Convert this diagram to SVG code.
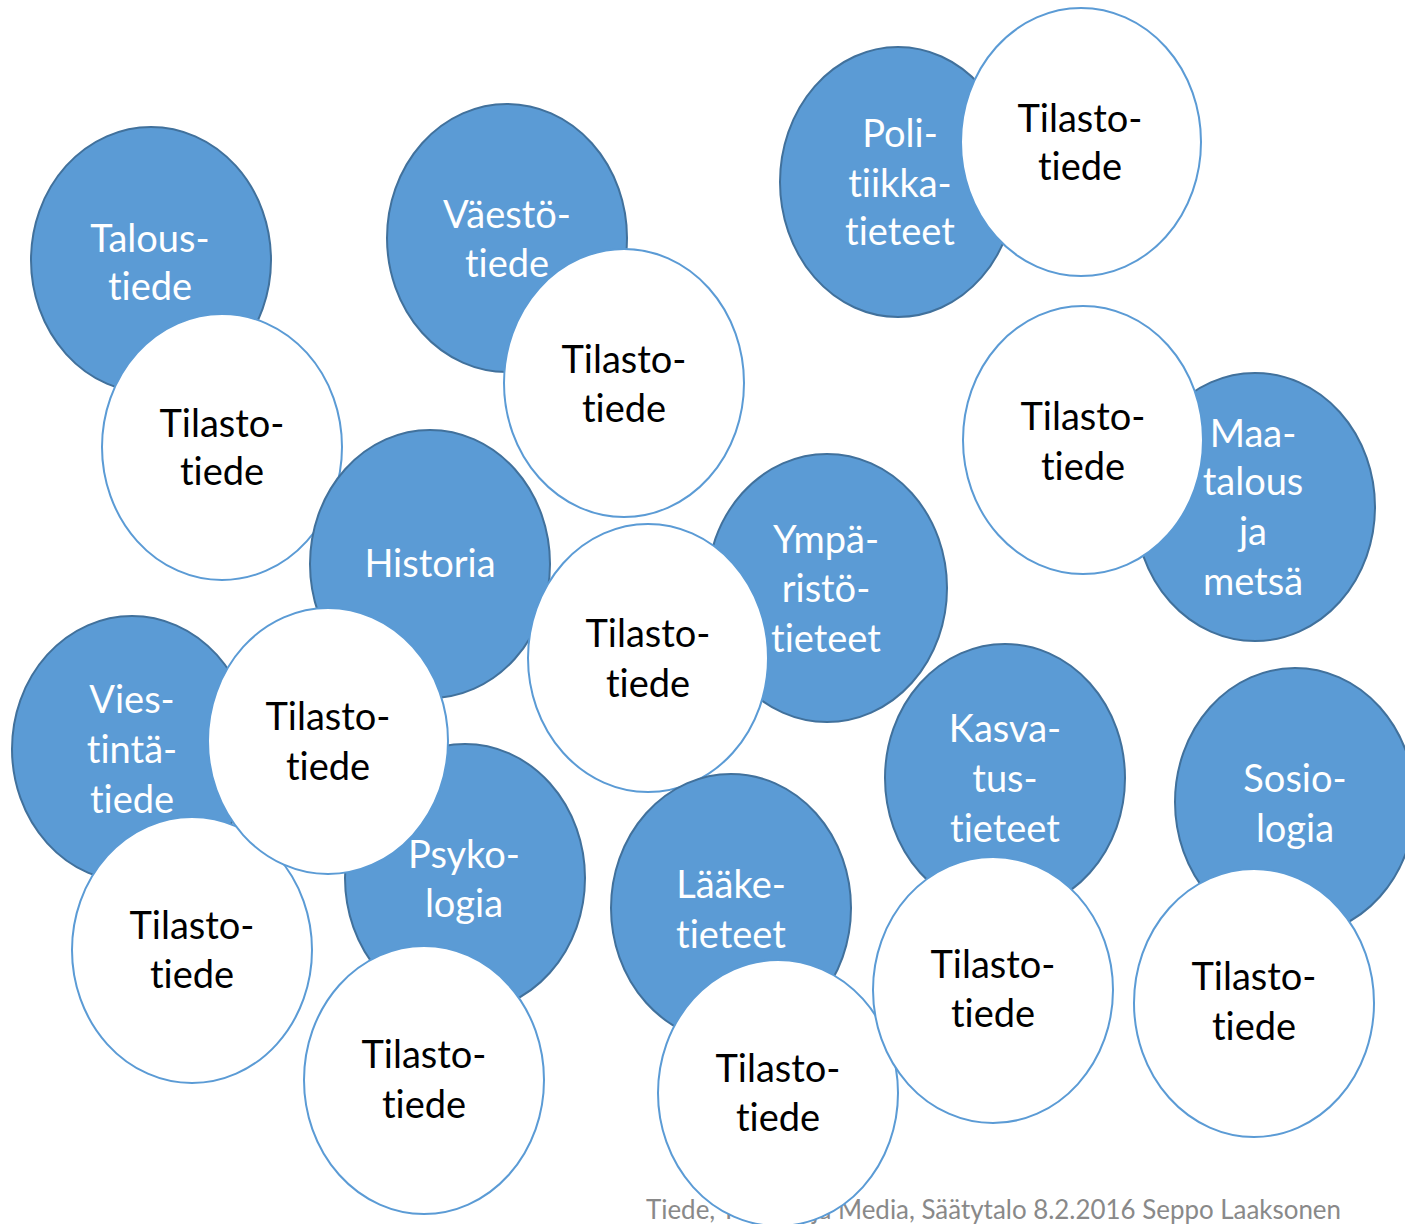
<svg xmlns="http://www.w3.org/2000/svg" width="1405" height="1224" viewBox="0 0 1405 1224">
<style>
text{font-variant-ligatures:none;font-feature-settings:"liga" 0,"dlig" 0}
.b{fill:#5B9BD5;stroke:#41719C;stroke-width:2}
.w{fill:#FFFFFF;stroke:#5B9BD5;stroke-width:2}
.tb{font-family:Lato,"Open Sans","Liberation Sans",sans-serif;font-size:38px;fill:#FFFFFF;text-anchor:middle}
.tw{font-family:Lato,"Open Sans","Liberation Sans",sans-serif;font-size:38px;fill:#000000;text-anchor:middle}
.ft{font-family:Lato,"Open Sans","Liberation Sans",sans-serif;font-size:26px;fill:#898989}
</style>
<rect width="1405" height="1224" fill="#FFFFFF"/>
<text class="ft" x="646" y="1219" textLength="695" lengthAdjust="spacingAndGlyphs">Tiede, Tilastot ja Media, Säätytalo 8.2.2016 Seppo Laaksonen</text>

<g id="taloustiede"><ellipse class="b" cx="151" cy="260" rx="120" ry="133"/><text class="tb" x="150" y="252">Talous-</text><text class="tb" x="150" y="300">tiede</text></g>
<g id="tilasto-a"><ellipse class="w" cx="222" cy="447" rx="120" ry="133"/><text class="tw" x="222" y="437">Tilasto-</text><text class="tw" x="222" y="485">tiede</text></g>

<g id="vaestotiede"><ellipse class="b" cx="507" cy="238" rx="120" ry="134"/><text class="tb" x="507" y="228">Väestö-</text><text class="tb" x="507" y="277">tiede</text></g>
<g id="tilasto-b"><ellipse class="w" cx="624" cy="383" rx="120" ry="134"/><text class="tw" x="624" y="373">Tilasto-</text><text class="tw" x="624" y="422">tiede</text></g>

<g id="politiikkatieteet"><ellipse class="b" cx="898" cy="182" rx="118" ry="135"/><text class="tb" x="900" y="147">Poli-</text><text class="tb" x="900" y="197">tiikka-</text><text class="tb" x="900" y="245">tieteet</text></g>
<g id="tilasto-c"><ellipse class="w" cx="1081" cy="142" rx="120" ry="134"/><text class="tw" x="1080" y="132">Tilasto-</text><text class="tw" x="1080" y="180">tiede</text></g>

<g id="maatalous"><ellipse class="b" cx="1255" cy="507" rx="120" ry="134"/><text class="tb" x="1253" y="447">Maa-</text><text class="tb" x="1253" y="495">talous</text><text class="tb" x="1253" y="545">ja</text><text class="tb" x="1253" y="595">metsä</text></g>
<g id="tilasto-d"><ellipse class="w" cx="1083" cy="440" rx="120" ry="134"/><text class="tw" x="1083" y="430">Tilasto-</text><text class="tw" x="1083" y="480">tiede</text></g>

<g id="viestintatiede"><ellipse class="b" cx="132" cy="749" rx="120" ry="133"/><text class="tb" x="132" y="713">Vies-</text><text class="tb" x="132" y="763">tintä-</text><text class="tb" x="132" y="813">tiede</text></g>
<g id="tilasto-g"><ellipse class="w" cx="192" cy="950" rx="120" ry="133"/><text class="tw" x="192" y="939">Tilasto-</text><text class="tw" x="192" y="988">tiede</text></g>

<g id="historia"><ellipse class="b" cx="430" cy="564" rx="120" ry="134"/><text class="tb" x="430" y="577">Historia</text></g>

<g id="psykologia"><ellipse class="b" cx="465" cy="878" rx="120" ry="134"/><text class="tb" x="464" y="868">Psyko-</text><text class="tb" x="464" y="917">logia</text></g>
<g id="tilasto-f"><ellipse class="w" cx="328" cy="741" rx="120" ry="133"/><text class="tw" x="328" y="730">Tilasto-</text><text class="tw" x="328" y="780">tiede</text></g>
<g id="tilasto-h"><ellipse class="w" cx="424" cy="1080" rx="120" ry="134"/><text class="tw" x="424" y="1068">Tilasto-</text><text class="tw" x="424" y="1118">tiede</text></g>

<g id="ymparistotieteet"><ellipse class="b" cx="827" cy="588" rx="120" ry="134"/><text class="tb" x="826" y="553">Ympä-</text><text class="tb" x="826" y="602">ristö-</text><text class="tb" x="826" y="652">tieteet</text></g>
<g id="tilasto-e"><ellipse class="w" cx="648" cy="658" rx="120" ry="134"/><text class="tw" x="648" y="647">Tilasto-</text><text class="tw" x="648" y="697">tiede</text></g>

<g id="laaketieteet"><ellipse class="b" cx="731" cy="908" rx="120" ry="134"/><text class="tb" x="731" y="898">Lääke-</text><text class="tb" x="731" y="948">tieteet</text></g>
<g id="tilasto-i"><ellipse class="w" cx="778" cy="1093" rx="120" ry="133"/><text class="tw" x="778" y="1082">Tilasto-</text><text class="tw" x="778" y="1131">tiede</text></g>

<g id="kasvatustieteet"><ellipse class="b" cx="1005" cy="778" rx="120" ry="134"/><text class="tb" x="1005" y="742">Kasva-</text><text class="tb" x="1005" y="792">tus-</text><text class="tb" x="1005" y="842">tieteet</text></g>
<g id="tilasto-j"><ellipse class="w" cx="993" cy="990" rx="120" ry="133"/><text class="tw" x="993" y="978">Tilasto-</text><text class="tw" x="993" y="1027">tiede</text></g>

<g id="sosiologia"><ellipse class="b" cx="1295" cy="802" rx="120" ry="134"/><text class="tb" x="1295" y="792">Sosio-</text><text class="tb" x="1295" y="842">logia</text></g>
<g id="tilasto-k"><ellipse class="w" cx="1254" cy="1003" rx="120" ry="134"/><text class="tw" x="1254" y="990">Tilasto-</text><text class="tw" x="1254" y="1040">tiede</text></g>
</svg>
